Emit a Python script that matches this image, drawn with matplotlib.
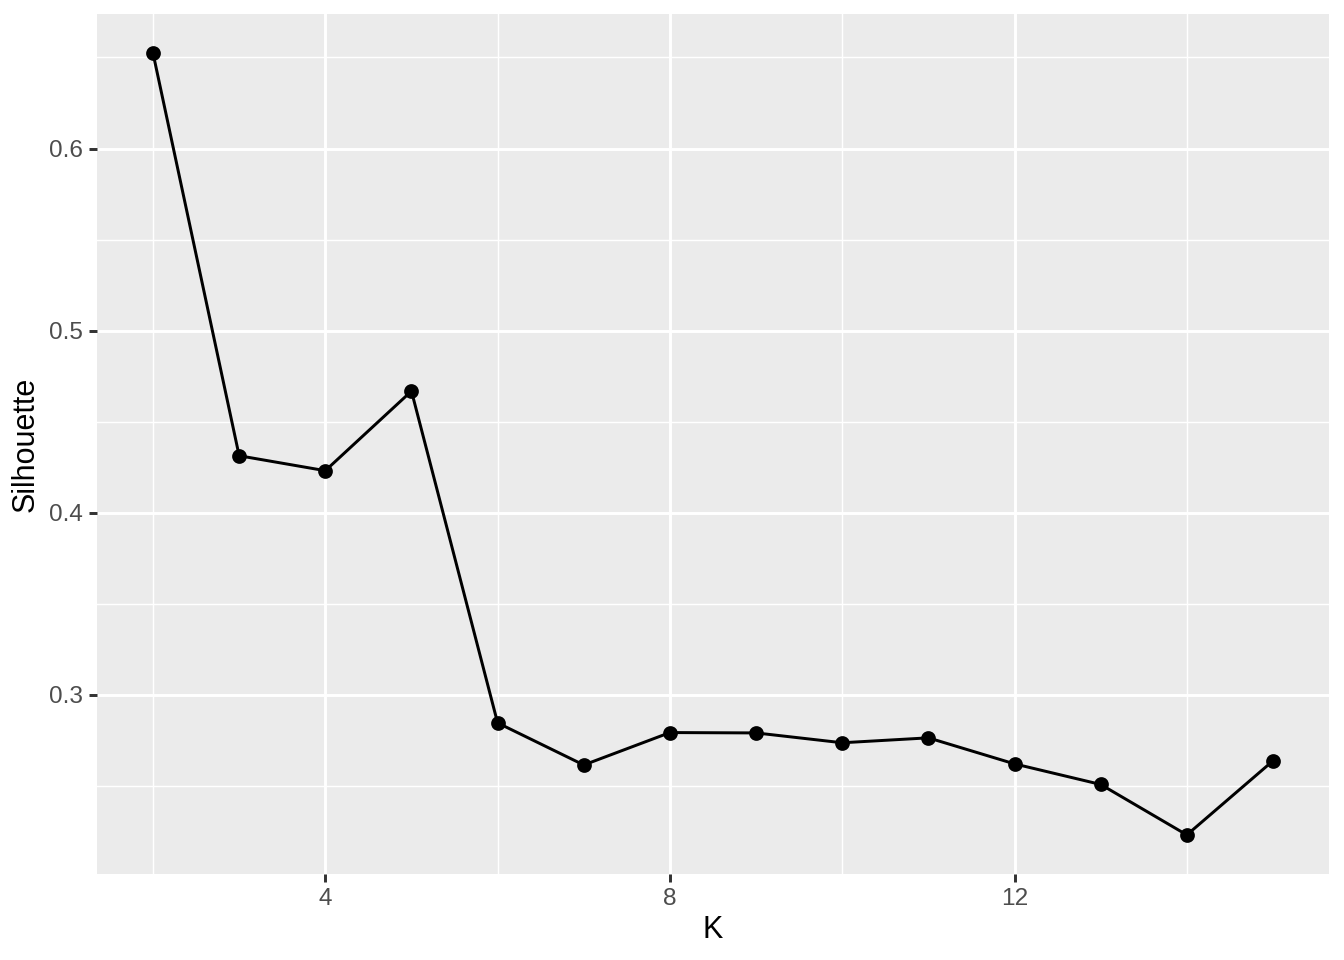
import matplotlib
matplotlib.use("Agg")
import matplotlib.pyplot as plt
from matplotlib.ticker import FixedLocator

k_values = [2, 3, 4, 5, 6, 7, 8, 9, 10, 11, 12, 13, 14, 15]
silhouette = [0.6524, 0.4313, 0.4231, 0.4668, 0.2846, 0.2615, 0.2793, 0.2791,
              0.2737, 0.2764, 0.2621, 0.2508, 0.2231, 0.2638]
x_major = [4, 8, 12]
y_major = [0.3, 0.4, 0.5, 0.6]
x_label = "K"
y_label = "Silhouette"

plt.rcParams['font.family'] = ['Liberation Sans', 'DejaVu Sans']

fig = plt.figure(figsize=(6.72, 4.8), dpi=200)
ax = fig.add_axes([97/1344, 1-874/960, (1329-97)/1344, (874-14)/960])
ax.set_facecolor('#EBEBEB')
for s in ax.spines.values():
    s.set_visible(False)

xr = max(k_values) - min(k_values)
ax.set_xlim(min(k_values) - 0.05*xr, max(k_values) + 0.05*xr)
yr = max(silhouette) - min(silhouette)
ax.set_ylim(min(silhouette) - 0.05*yr, max(silhouette) + 0.05*yr)

ax.xaxis.set_major_locator(FixedLocator(x_major))
ax.yaxis.set_major_locator(FixedLocator(y_major))
ax.xaxis.set_minor_locator(FixedLocator([2, 6, 10, 14]))
ax.yaxis.set_minor_locator(FixedLocator([0.25, 0.35, 0.45, 0.55, 0.65]))
ax.set_xticklabels([str(v) for v in x_major])
ax.set_yticklabels([f"{v:.1f}" for v in y_major])

ax.grid(which='major', color='white', linewidth=1.07)
ax.grid(which='minor', color='white', linewidth=0.53)
ax.set_axisbelow(True)
ax.tick_params(which='major', length=2.75, width=1.07, color='#333333',
               labelsize=8.8, labelcolor='#4D4D4D', pad=2.2)
ax.tick_params(which='minor', length=0)

ax.plot(k_values, silhouette, color='black', linewidth=1.07, zorder=3)
ax.plot(k_values, silhouette, 'o', color='black', markersize=4.3, zorder=4)

ax.set_xlabel(x_label, fontsize=11, color='black', labelpad=2)
ax.set_ylabel(y_label, fontsize=11, color='black', labelpad=3)

fig.savefig("out.png", dpi=200)
